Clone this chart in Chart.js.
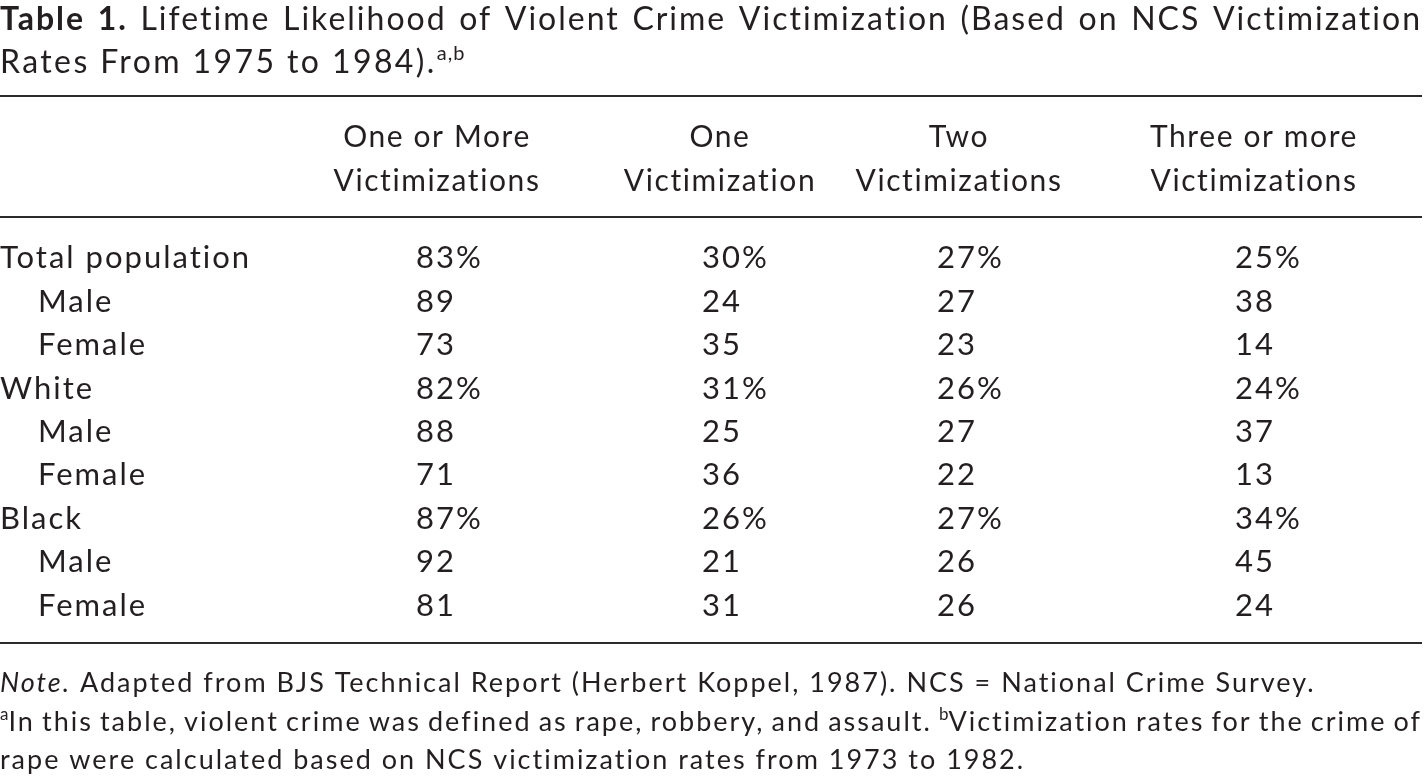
<!DOCTYPE html>
<html>
<head>
<meta charset="utf-8">
<script src="https://cdn.jsdelivr.net/npm/chart.js@4"></script>
<style>
  html, body { margin: 0; padding: 0; background: #fff; }
  #wrap { width: 1425px; height: 779px; position: relative; }
</style>
</head>
<body>
<div id="wrap"><canvas id="tableChart"></canvas></div>
<script>
// Table content
const rowLabels = ['Total population', 'Male', 'Female', 'White', 'Male', 'Female', 'Black', 'Male', 'Female'];
const rowIndent = [0, 1, 1, 0, 1, 1, 0, 1, 1];
const columnHeaders = [
    ['One or More', 'Victimizations'],
    ['One', 'Victimization'],
    ['Two', 'Victimizations'],
    ['Three or more', 'Victimizations']
];
const oneOrMore = [83, 89, 73, 82, 88, 71, 87, 92, 81];
const oneVictim = [30, 24, 35, 31, 25, 36, 26, 21, 31];
const twoVictim = [27, 27, 23, 26, 27, 22, 27, 26, 26];
const threePlus = [25, 38, 14, 24, 37, 13, 34, 45, 24];
const series = [oneOrMore, oneVictim, twoVictim, threePlus];

const titleLabel = 'Table 1.';
const titleLine1 = 'Lifetime Likelihood of Violent Crime Victimization (Based on NCS Victimization';
const titleLine2 = 'Rates From 1975 to 1984).';
const noteText = 'Adapted from BJS Technical Report (Herbert Koppel, 1987). NCS = National Crime Survey.';
const footA = 'In this table, violent crime was defined as rape, robbery, and assault.';
const footB1 = 'Victimization rates for the crime of';
const footB2 = 'rape were calculated based on NCS victimization rates from 1973 to 1982.';

// layout
const FONT = 'Lato, "Noto Sans", sans-serif';
const INK = '#231f20';
const colValueX = [416, 702, 937, 1235];
const colHeadX = [437, 720, 959, 1254];

// draws a line of mixed-font runs, optionally justified to a width
function drawRuns(ctx, runs, x, y, width) {
    const tokens = [];
    runs.forEach(r => r.text.split(/( )/).forEach(t => {
        if (t) tokens.push({ t: t, font: r.font, dy: r.dy || 0, ls: r.ls || '0px' });
    }));
    let fixed = 0, spaces = 0;
    tokens.forEach(k => {
        ctx.font = k.font;
        ctx.letterSpacing = k.ls;
        if (k.t === ' ') spaces++;
        else fixed += ctx.measureText(k.t).width;
    });
    const gap = width ? (width - fixed) / spaces : null;
    let cx = x;
    tokens.forEach(k => {
        ctx.font = k.font;
        ctx.letterSpacing = k.ls;
        if (k.t === ' ') {
            cx += gap !== null ? gap : ctx.measureText(' ').width;
        } else {
            ctx.fillText(k.t, cx, y + k.dy);
            cx += ctx.measureText(k.t).width;
        }
    });
    ctx.letterSpacing = '0px';
}

const tablePlugin = {
    id: 'tableText',
    afterDraw(chart) {
        const ctx = chart.ctx;
        const xs = chart.scales.x;
        const ys = chart.scales.y;
        const area = chart.chartArea;
        ctx.save();
        ctx.fillStyle = INK;
        ctx.textBaseline = 'alphabetic';
        ctx.textAlign = 'left';

        // title
        const tf = '32px ' + FONT;
        drawRuns(ctx, [
            { text: titleLabel + ' ', font: 'bold 32px ' + FONT, ls: '2px' },
            { text: titleLine1, font: tf, ls: '2px' }
        ], 0, 30, 1422);
        drawRuns(ctx, [
            { text: titleLine2, font: tf, ls: '2.4px' },
            { text: 'a,b', font: '20px ' + FONT, dy: -13, ls: '1px' }
        ], 0, 73);

        // rules
        ctx.strokeStyle = '#2b2b2b';
        ctx.lineWidth = 2;
        [96, area.top - 19, area.bottom + 16].forEach(yy => {
            ctx.beginPath();
            ctx.moveTo(xs.getPixelForValue(0), yy);
            ctx.lineTo(xs.getPixelForValue(1422), yy);
            ctx.stroke();
        });

        // column headers
        ctx.font = '30px ' + FONT;
        ctx.letterSpacing = '1.6px';
        ctx.textAlign = 'center';
        columnHeaders.forEach((lines, c) => {
            lines.forEach((ln, j) => {
                ctx.fillText(ln, xs.getPixelForValue(colHeadX[c]), 147 + j * 44);
            });
        });

        // body rows
        ctx.textAlign = 'left';
        ctx.font = '31px ' + FONT;
        ctx.letterSpacing = '2px';
        rowLabels.forEach((lab, i) => {
            const py = ys.getPixelForValue(i) + 10.5;
            ctx.fillText(lab, xs.getPixelForValue(rowIndent[i] ? 38 : 0), py);
            series.forEach((vals, c) => {
                const txt = vals[i] + (rowIndent[i] ? '' : '%');
                ctx.fillText(txt, xs.getPixelForValue(colValueX[c]), py);
            });
        });
        ctx.letterSpacing = '0px';

        // notes
        const nf = '27px ' + FONT;
        const sf = '17px ' + FONT;
        drawRuns(ctx, [
            { text: 'Note.', font: 'italic 27px ' + FONT, ls: '2px' },
            { text: ' ' + noteText, font: nf, ls: '2px' }
        ], 0, 692);
        drawRuns(ctx, [
            { text: 'a', font: sf, dy: -11 },
            { text: footA + ' ', font: nf, ls: '2px' },
            { text: 'b', font: sf, dy: -11 },
            { text: footB1, font: nf, ls: '2px' }
        ], 0, 731, 1422);
        drawRuns(ctx, [{ text: footB2, font: nf, ls: '2px' }], 0, 769);
        ctx.restore();
    }
};

const ctx = document.getElementById('tableChart').getContext('2d');
new Chart(ctx, {
    type: 'scatter',
    data: { datasets: [] },
    options: {
        responsive: true,
        maintainAspectRatio: false,
        animation: false,
        events: [],
        layout: { padding: { top: 236, bottom: 152, left: 0, right: 0 } },
        plugins: {
            legend: { display: false },
            tooltip: { enabled: false }
        },
        scales: {
            x: { type: 'linear', min: 0, max: 1425, display: false },
            y: { type: 'category', labels: rowLabels, offset: true, display: false }
        }
    },
    plugins: [tablePlugin]
});
</script>
</body>
</html>
